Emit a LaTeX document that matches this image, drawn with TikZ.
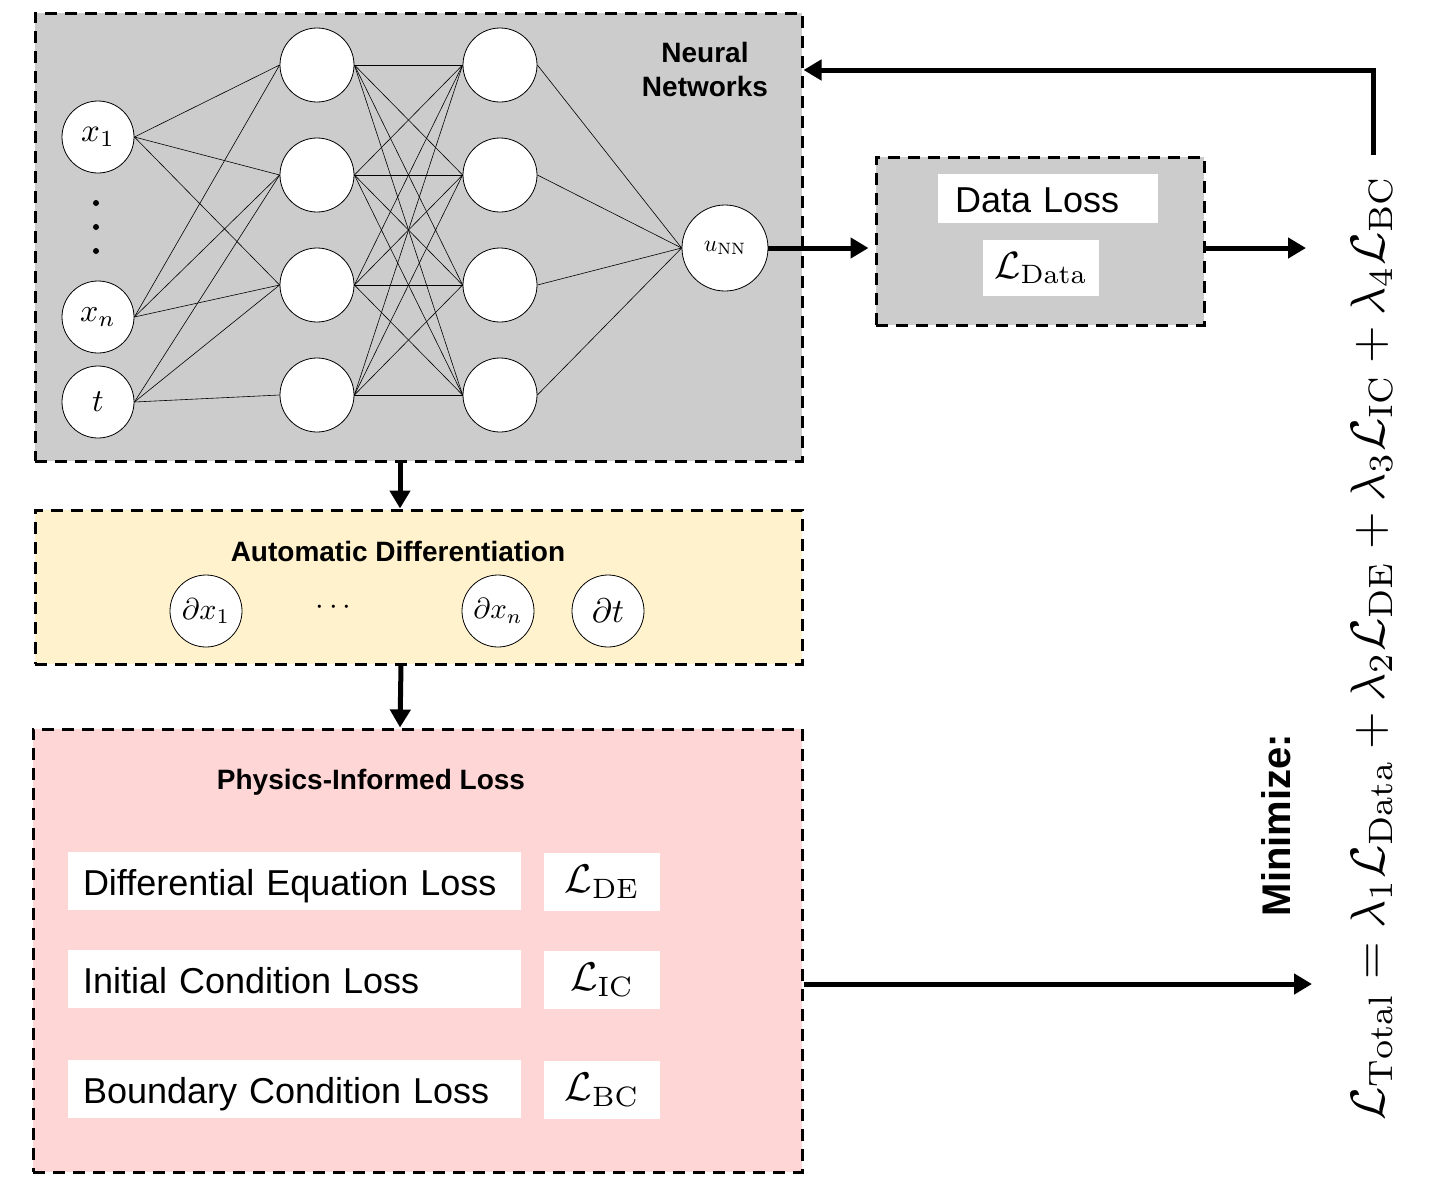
\RequirePackage{fix-cm}
\documentclass[tikz,border=0pt]{standalone}
\usepackage{amsmath}
\usepackage{graphicx}
\usepackage{fontspec}
\setsansfont{Liberation Sans}
\usetikzlibrary{arrows.meta}
\definecolor{nngray}{HTML}{CCCCCC}
\definecolor{adyellow}{HTML}{FFF2CC}
\definecolor{physpink}{HTML}{FFD6D6}
\newcommand{\myfs}[1]{\fontsize{#1}{#1}\selectfont}
\newcommand{\sm}[2]{\scalebox{#1}{$#2$}}
\begin{document}
\begin{tikzpicture}[x=1pt,y=-1pt,
  dbox/.style={draw=black, line width=3pt, dash pattern=on 12pt off 8pt, rectangle, inner sep=0pt},
  neuron/.style={circle, draw=black, line width=0.8pt, fill=white, minimum size=74pt, inner sep=0pt},
  wbox/.style={rectangle, fill=white, draw=none, inner sep=0pt},
  conn/.style={line width=0.6pt},
  bigarrow/.style={line width=5pt, -{Triangle[length=18pt,width=20pt]}},
  title/.style={font=\sffamily\bfseries\fontsize{28}{34}\selectfont, align=center},
  losstext/.style={wbox, font=\sffamily\myfs{36}, align=left, inner xsep=15pt, text width=423pt, minimum height=58pt, text height=30pt, text depth=2pt},
  lossmath/.style={wbox, minimum width=116pt, minimum height=58pt},
]
\useasboundingbox (0,0) rectangle (1437,1178);

% boxes
\node[dbox, fill=nngray, minimum width=767pt, minimum height=448pt] (nn) at (418.5,237) {};
\node[dbox, fill=adyellow, minimum width=767pt, minimum height=154pt] (ad) at (418.5,587) {};
\node[dbox, fill=physpink, minimum width=769pt, minimum height=443pt] (phys) at (417.5,950.5) {};
\node[dbox, fill=nngray, minimum width=328pt, minimum height=168pt] (data) at (1040,241) {};

% neural network
\node[title] (nntitle) at (705,69) {Neural\\Networks};

\node[neuron, minimum size=72pt] (x1) at (98,137) {\sm{3.3}{x_1}};
\node[neuron, minimum size=72pt] (xn) at (98,317) {\sm{3.2}{x_n}};
\node[neuron, minimum size=72pt] (t) at (98,402) {\sm{3.2}{t}};
\fill (96,203) circle (3pt);
\fill (96,227) circle (3pt);
\fill (96,251) circle (3pt);

\foreach \i/\yy in {1/65,2/175,3/285,4/395}{
  \node[neuron] (ha\i) at (317,\yy) {};
  \node[neuron] (hb\i) at (500,\yy) {};
}
\node[neuron, minimum size=86pt] (unn) at (725,248) {\sm{2.35}{u_{\mathrm{NN}}}};

\foreach \j in {1,2,3}{
  \draw[conn] (x1.east) -- (ha\j.west);
  \draw[conn] (xn.east) -- (ha\j.west);
}
\foreach \j in {2,3,4}{
  \draw[conn] (t.east) -- (ha\j.west);
}
\foreach \i in {1,...,4}{
  \foreach \j in {1,...,4}{
    \draw[conn] (ha\i.east) -- (hb\j.west);
  }
  \draw[conn] (hb\i.east) -- (unn.west);
}

% data loss
\node[wbox, font=\sffamily\myfs{36}, align=left, inner xsep=17pt, text width=186pt, minimum height=49pt, text height=29pt, text depth=2pt] (dltext) at (1048,198.5) {Data Loss};
\node[lossmath, minimum height=56pt] (dlmath) at (1041,268) {\sm{3.8}{\mathcal{L}_{\mathrm{Data}}}};

% automatic differentiation
\node[title] (adtitle) at (398,551) {Automatic Differentiation};
\node[neuron, minimum size=72pt] (dx1) at (206,611) {\sm{3.0}{\partial x_1}};
\node[inner sep=0pt] (addots) at (336,608) {\sm{3.1}{\cdots}};
\node[neuron, minimum size=72pt] (dxn) at (498,611) {\sm{2.9}{\partial x_n}};
\node[neuron, minimum size=72pt] (dt) at (608,611) {\sm{3.4}{\partial t}};

% physics informed loss
\node[title] (phystitle) at (371,782) {Physics-Informed Loss};
\node[losstext] (detext) at (294.5,881) {Differential Equation Loss};
\node[losstext] (ictext) at (294.5,979) {Initial Condition Loss};
\node[losstext] (bctext) at (294.5,1089) {Boundary Condition Loss};
\node[lossmath] (demath) at (602,882) {\sm{4.0}{\mathcal{L}_{\mathrm{DE}}}};
\node[lossmath] (icmath) at (602,980) {\sm{4.0}{\mathcal{L}_{\mathrm{IC}}}};
\node[lossmath] (bcmath) at (602,1090) {\sm{4.0}{\mathcal{L}_{\mathrm{BC}}}};

% minimize
\node[rotate=90, font=\sffamily\bfseries\myfs{40}] (minim) at (1276,825) {Minimize:};
\node[rotate=90, inner sep=0pt] (total) at (1372,648) {\resizebox{945pt}{!}{$\mathcal{L}_{\mathrm{Total}} = \lambda_1\mathcal{L}_{\mathrm{Data}} + \lambda_2\mathcal{L}_{\mathrm{DE}} + \lambda_3\mathcal{L}_{\mathrm{IC}} + \lambda_4\mathcal{L}_{\mathrm{BC}}$}};

% connectors
\coordinate (dataout) at (1306,248);
\coordinate (physout) at (1312,984);
\coordinate (fbstart) at (1373,155);
\coordinate (fbcorner) at (1373,70);

\draw[bigarrow, shorten >=6pt] (unn.east) -- (data.west |- unn.east);
\draw[bigarrow] (data.east |- dataout) -- (dataout);
\draw[bigarrow] (phys.east |- physout) -- (physout);
\draw[bigarrow] ([xshift=-18.5pt]nn.south) -- ([xshift=-18.5pt]ad.north);
\draw[bigarrow] ([xshift=-17.5pt]ad.south) -- ([xshift=-17.5pt]phys.north);
\draw[bigarrow, line join=miter] (fbstart) -- (fbcorner) -- (fbcorner -| nn.east);
\end{tikzpicture}
\end{document}
